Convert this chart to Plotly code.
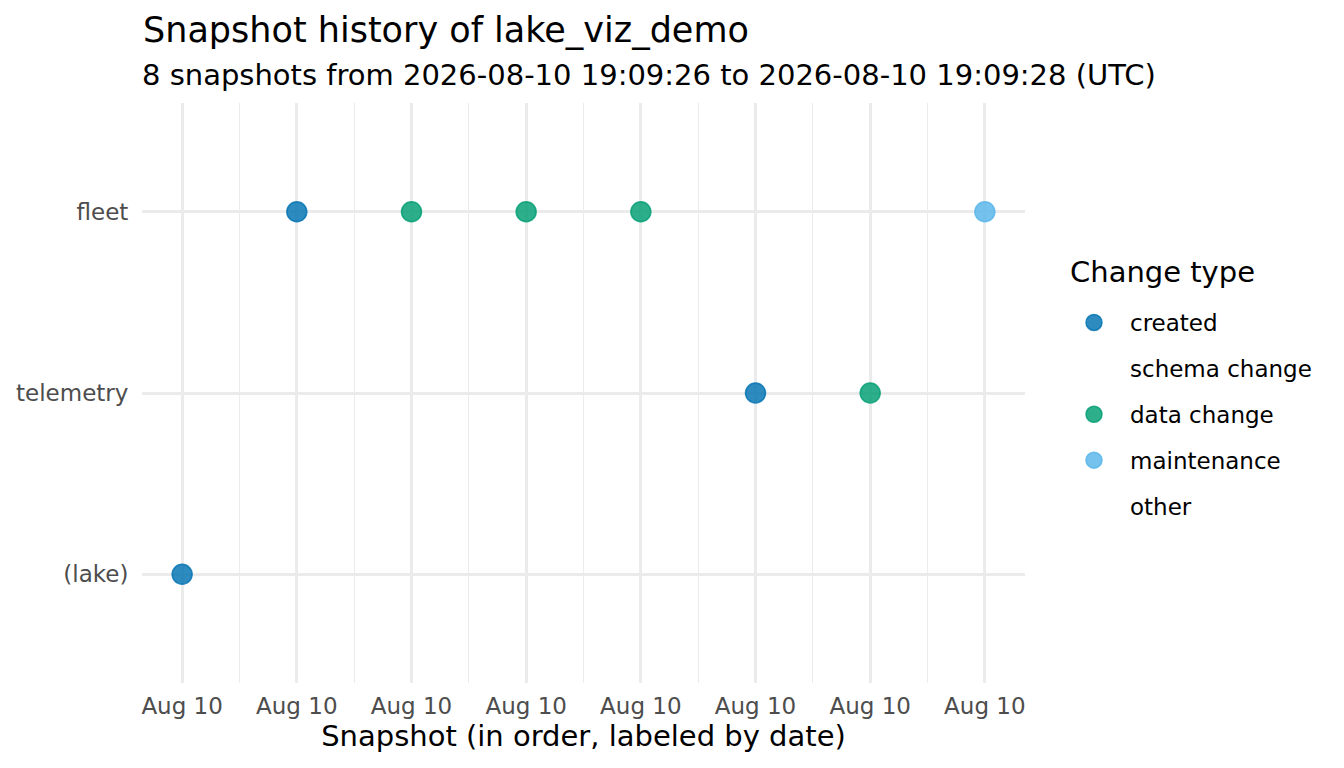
import plotly.graph_objects as go

# snapshot data
snapshot_ids = [1, 2, 3, 4, 5, 6, 7, 8]
snapshot_tables = ["(lake)", "fleet", "fleet", "fleet", "fleet", "telemetry", "telemetry", "fleet"]
snapshot_changes = ["created", "created", "data change", "data change", "data change",
                    "created", "data change", "maintenance"]
tick_labels = ["Aug 10"] * 8
table_order = ["(lake)", "telemetry", "fleet"]

change_types = ["created", "schema change", "data change", "maintenance", "other"]
change_colors = {
    "created": "rgba(0,114,178,0.82)",
    "schema change": "rgba(230,159,0,0.82)",
    "data change": "rgba(0,158,115,0.82)",
    "maintenance": "rgba(86,180,233,0.82)",
    "other": "rgba(153,153,153,0.82)",
}

FONT = "DejaVu Sans"
# the page body has an 8px margin, so the figure is drawn 8px in from the corner
OFF = 8
W, H = 1344 - OFF, 768 - OFF
PLOT_L, PLOT_R, PLOT_T, PLOT_B = 142, 1025, 103, 683  # panel in page pixels
PW, PH = PLOT_R - PLOT_L, PLOT_B - PLOT_T

fig = go.Figure()
for ct in change_types:
    xs = [i for i, c in zip(snapshot_ids, snapshot_changes) if c == ct]
    ys = [t for t, c in zip(snapshot_tables, snapshot_changes) if c == ct]
    col = change_colors[ct]
    if not xs:
        # unused level: keep it in the legend but without a key
        xs, ys, col = [None], [None], "rgba(0,0,0,0)"
    fig.add_trace(go.Scatter(
        x=xs, y=ys, mode="markers", name=ct, legendgroup=ct,
        marker=dict(size=20, color=col, line=dict(color=col, width=1.5)),
        hoverinfo="x+y+name",
    ))

fig.update_layout(
    width=W, height=H,
    paper_bgcolor="white", plot_bgcolor="white",
    margin=dict(l=PLOT_L - OFF, r=W - (PLOT_R - OFF), t=PLOT_T - OFF, b=H - (PLOT_B - OFF)),
    font=dict(family=FONT, color="black"),
    title=dict(
        text="Snapshot history of lake_viz_demo",
        font=dict(size=35, color="black"),
        x=(143 - OFF) / W, xref="container", xanchor="left",
        y=1 - (30 - OFF) / H, yref="container", yanchor="middle",
    ),
    annotations=[
        dict(
            text="8 snapshots from 2026-08-10 19:09:26 to 2026-08-10 19:09:28 (UTC)",
            xref="paper", yref="paper", x=(140 - PLOT_L) / PW, y=1 + 28 / PH,
            xanchor="left", yanchor="middle", showarrow=False,
            font=dict(size=29, color="black"),
        ),
        dict(
            text="Change type",
            xref="paper", yref="paper", x=(1068 - PLOT_L) / PW, y=(PLOT_B - 272) / PH,
            xanchor="left", yanchor="middle", showarrow=False,
            font=dict(size=29, color="black"),
        ),
    ],
    legend=dict(
        font=dict(size=23, color="black"),
        xref="container", yref="container",
        x=(1058 - OFF) / W, xanchor="left",
        y=1 - (301 - OFF) / H, yanchor="top",
        tracegroupgap=13, itemsizing="trace", itemwidth=62,
        bgcolor="rgba(0,0,0,0)",
    ),
    showlegend=True,
)

fig.update_xaxes(
    range=[0.65, 8.35], tickvals=snapshot_ids, ticktext=tick_labels,
    showgrid=True, gridcolor="#EBEBEB", gridwidth=2.5,
    minor=dict(dtick=0.5, tick0=0.5, showgrid=True, gridcolor="#EBEBEB", gridwidth=1.3),
    zeroline=False, showline=False, automargin=False,
    ticks="outside", ticklen=2, tickcolor="rgba(0,0,0,0)",
    tickfont=dict(size=23, color="#4D4D4D"),
    title=dict(text="Snapshot (in order, labeled by date)", font=dict(size=29, color="black"), standoff=6),
)
fig.update_yaxes(
    type="category", categoryorder="array", categoryarray=table_order,
    range=[-0.6, 2.6],
    showgrid=True, gridcolor="#EBEBEB", gridwidth=2.5,
    zeroline=False, showline=False, automargin=False,
    ticks="outside", ticklen=8, tickcolor="rgba(0,0,0,0)",
    tickfont=dict(size=23, color="#4D4D4D"),
)

fig.write_html("out.html")
